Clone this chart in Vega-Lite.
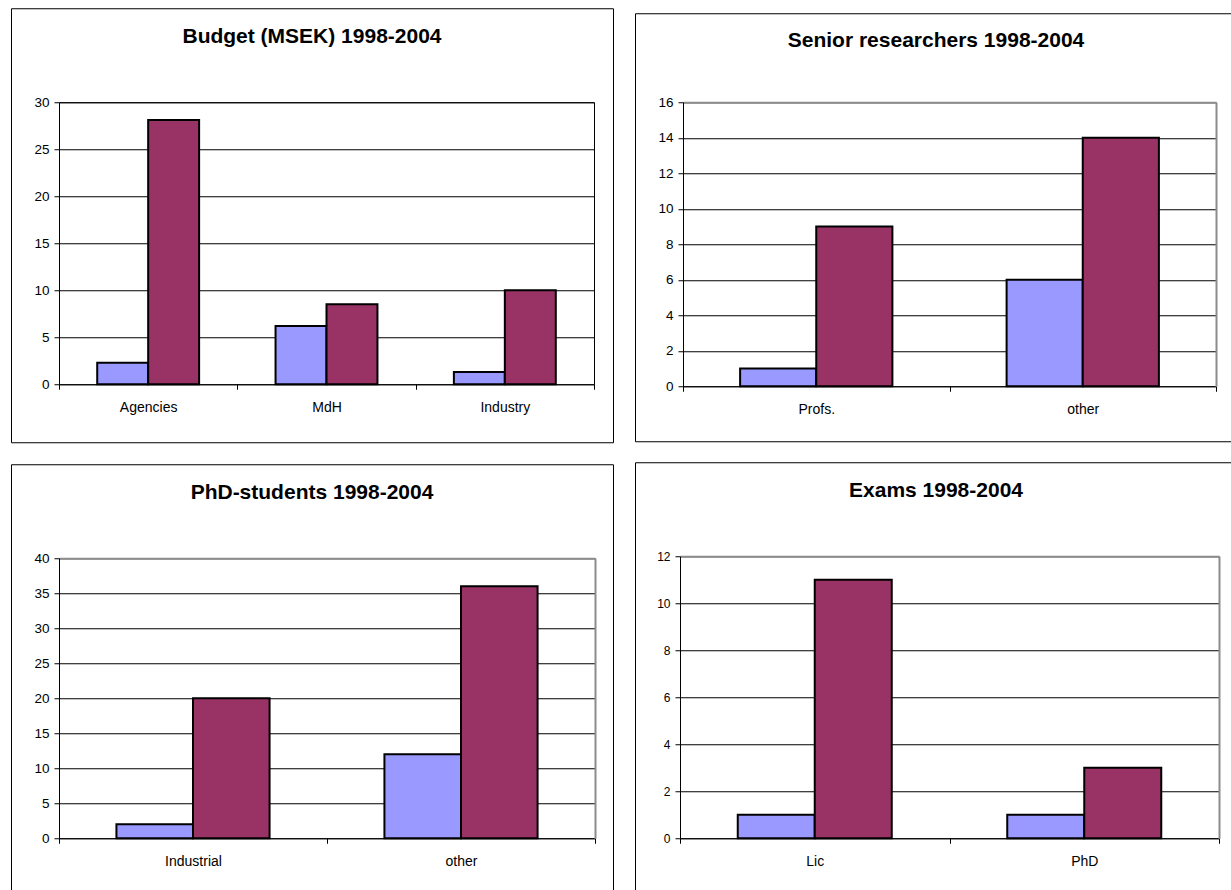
{
  "$schema": "https://vega.github.io/schema/vega-lite/v6.json",
  "background": "white",
  "padding": {"left": 10, "top": 7, "right": 0, "bottom": 0},
  "datasets": {
    "budget": [
      {"category": "Agencies", "series": "Series1", "value": 2.3},
      {"category": "Agencies", "series": "Series2", "value": 28.1},
      {"category": "MdH", "series": "Series1", "value": 6.2},
      {"category": "MdH", "series": "Series2", "value": 8.5},
      {"category": "Industry", "series": "Series1", "value": 1.3},
      {"category": "Industry", "series": "Series2", "value": 10}
    ],
    "senior": [
      {"category": "Profs.", "series": "Series1", "value": 1},
      {"category": "Profs.", "series": "Series2", "value": 9},
      {"category": "other", "series": "Series1", "value": 6},
      {"category": "other", "series": "Series2", "value": 14}
    ],
    "phd": [
      {"category": "Industrial", "series": "Series1", "value": 2},
      {"category": "Industrial", "series": "Series2", "value": 20},
      {"category": "other", "series": "Series1", "value": 12},
      {"category": "other", "series": "Series2", "value": 36}
    ],
    "exams": [
      {"category": "Lic", "series": "Series1", "value": 1},
      {"category": "Lic", "series": "Series2", "value": 11},
      {"category": "PhD", "series": "Series1", "value": 1},
      {"category": "PhD", "series": "Series2", "value": 3}
    ]
  },
  "config": {
    "view": {"stroke": "black", "strokeWidth": 1},
    "font": "Liberation Sans",
    "axis": {
      "labelFont": "Liberation Sans",
      "labelColor": "black",
      "domainColor": "black",
      "domainWidth": 1,
      "tickColor": "black",
      "tickWidth": 1,
      "gridColor": "black",
      "gridOpacity": 1,
      "gridWidth": 1,
      "title": null
    },
    "title": {"font": "Liberation Sans", "fontSize": 21, "fontWeight": "bold", "color": "black", "anchor": "middle", "frame": "group", "offset": -39}
  },
  "spacing": 20,
  "center": true,
  "resolve": {"scale": {"xOffset": "independent"}},
  "hconcat": [
    {
      "spacing": 20,
      "resolve": {"scale": {"xOffset": "independent"}},
      "vconcat": [
        {
          "width": 602, "height": 434,
          "title": {"text": "Budget (MSEK) 1998-2004", "offset": -39},
          "data": {"name": "budget"},
          "layer": [
            {
              "mark": {"type": "bar", "stroke": "black", "strokeWidth": 2},
              "encoding": {
                "x": {"field": "category", "type": "nominal", "sort": ["Agencies", "MdH", "Industry"],
                      "scale": {"range": [48, 583], "paddingInner": 0, "paddingOuter": 0},
                      "axis": {"orient": "bottom", "offset": -58, "tickBand": "extent", "tickSize": 5, "labelPadding": 11, "labelAngle": 0, "labelFontSize": 14, "grid": false}},
                "xOffset": {"field": "series", "type": "nominal", "scale": {"paddingInner": 0, "paddingOuter": 0.75}},
                "y": {"field": "value", "type": "quantitative",
                      "scale": {"domain": [0, 30], "range": [376, 94], "nice": false},
                      "axis": {"orient": "left", "offset": -48, "values": [0, 5, 10, 15, 20, 25, 30], "tickSize": 5, "labelPadding": 5, "labelFontSize": 13.5, "grid": true}},
                "color": {"field": "series", "type": "nominal", "scale": {"domain": ["Series1", "Series2"], "range": ["#9999FF", "#993366"]}, "legend": null}
              }
            },
            {
              "mark": {"type": "point", "opacity": 0},
              "encoding": {
                "x": {"field": "category", "type": "nominal", "sort": ["Agencies", "MdH", "Industry"],
                      "axis": {"orient": "top", "offset": -94, "labels": false, "ticks": false, "grid": false, "domainColor": "black"}},
                "y": {"field": "value", "type": "quantitative",
                      "axis": {"orient": "right", "offset": -19, "labels": false, "ticks": false, "grid": false, "domainColor": "black"}}
              }
            }
          ],
          "resolve": {"axis": {"x": "independent", "y": "independent"}}
        },
        {
          "width": 602, "height": 434,
          "title": {"text": "PhD-students 1998-2004"},
          "data": {"name": "phd"},
          "layer": [
            {
              "mark": {"type": "bar", "stroke": "black", "strokeWidth": 2},
              "encoding": {
                "x": {"field": "category", "type": "nominal", "sort": ["Industrial", "other"],
                      "scale": {"range": [48, 584], "paddingInner": 0, "paddingOuter": 0},
                      "axis": {"orient": "bottom", "offset": -60, "tickBand": "extent", "tickSize": 5, "labelPadding": 11, "labelAngle": 0, "labelFontSize": 14, "grid": false}},
                "xOffset": {"field": "series", "type": "nominal", "scale": {"paddingInner": 0, "paddingOuter": 0.75}},
                "y": {"field": "value", "type": "quantitative",
                      "scale": {"domain": [0, 40], "range": [374, 94], "nice": false},
                      "axis": {"orient": "left", "offset": -48, "values": [0, 5, 10, 15, 20, 25, 30, 35, 40], "tickSize": 5, "labelPadding": 5, "labelFontSize": 13.5, "grid": true}},
                "color": {"field": "series", "type": "nominal", "scale": {"domain": ["Series1", "Series2"], "range": ["#9999FF", "#993366"]}, "legend": null}
              }
            },
            {
              "mark": {"type": "point", "opacity": 0},
              "encoding": {
                "x": {"field": "category", "type": "nominal", "sort": ["Industrial", "other"],
                      "axis": {"orient": "top", "offset": -94, "labels": false, "ticks": false, "grid": false, "domainColor": "#8c8c8c", "domainWidth": 2}},
                "y": {"field": "value", "type": "quantitative",
                      "axis": {"orient": "right", "offset": -18, "labels": false, "ticks": false, "grid": false, "domainColor": "#8c8c8c", "domainWidth": 2}}
              }
            }
          ],
          "resolve": {"axis": {"x": "independent", "y": "independent"}}
        }
      ]
    },
    {
      "spacing": 19,
      "resolve": {"scale": {"xOffset": "independent"}},
      "vconcat": [
        {
          "width": 602, "height": 428,
          "title": {"text": "Senior researchers 1998-2004", "offset": -38},
          "data": {"name": "senior"},
          "layer": [
            {
              "mark": {"type": "bar", "stroke": "black", "strokeWidth": 2},
              "encoding": {
                "x": {"field": "category", "type": "nominal", "sort": ["Profs.", "other"],
                      "scale": {"range": [48, 581], "paddingInner": 0, "paddingOuter": 0},
                      "axis": {"orient": "bottom", "offset": -55, "tickBand": "extent", "tickSize": 5, "labelPadding": 11, "labelAngle": 0, "labelFontSize": 14, "grid": false}},
                "xOffset": {"field": "series", "type": "nominal", "scale": {"paddingInner": 0, "paddingOuter": 0.75}},
                "y": {"field": "value", "type": "quantitative",
                      "scale": {"domain": [0, 16], "range": [373, 89], "nice": false},
                      "axis": {"orient": "left", "offset": -48, "values": [0, 2, 4, 6, 8, 10, 12, 14, 16], "tickSize": 5, "labelPadding": 5, "labelFontSize": 13.5, "grid": true}},
                "color": {"field": "series", "type": "nominal", "scale": {"domain": ["Series1", "Series2"], "range": ["#9999FF", "#993366"]}, "legend": null}
              }
            },
            {
              "mark": {"type": "point", "opacity": 0},
              "encoding": {
                "x": {"field": "category", "type": "nominal", "sort": ["Profs.", "other"],
                      "axis": {"orient": "top", "offset": -89, "labels": false, "ticks": false, "grid": false, "domainColor": "#8c8c8c", "domainWidth": 2}},
                "y": {"field": "value", "type": "quantitative",
                      "axis": {"orient": "right", "offset": -21, "labels": false, "ticks": false, "grid": false, "domainColor": "#8c8c8c", "domainWidth": 2}}
              }
            }
          ],
          "resolve": {"axis": {"x": "independent", "y": "independent"}}
        },
        {
          "width": 602, "height": 431,
          "title": {"text": "Exams 1998-2004"},
          "data": {"name": "exams"},
          "layer": [
            {
              "mark": {"type": "bar", "stroke": "black", "strokeWidth": 2},
              "encoding": {
                "x": {"field": "category", "type": "nominal", "sort": ["Lic", "PhD"],
                      "scale": {"range": [45, 584], "paddingInner": 0, "paddingOuter": 0},
                      "axis": {"orient": "bottom", "offset": -55, "tickBand": "extent", "tickSize": 5, "labelPadding": 11, "labelAngle": 0, "labelFontSize": 14, "grid": false}},
                "xOffset": {"field": "series", "type": "nominal", "scale": {"paddingInner": 0, "paddingOuter": 0.75}},
                "y": {"field": "value", "type": "quantitative",
                      "scale": {"domain": [0, 12], "range": [376, 94], "nice": false},
                      "axis": {"orient": "left", "offset": -45, "values": [0, 2, 4, 6, 8, 10, 12], "tickSize": 5, "labelPadding": 5, "labelFontSize": 12, "grid": true}},
                "color": {"field": "series", "type": "nominal", "scale": {"domain": ["Series1", "Series2"], "range": ["#9999FF", "#993366"]}, "legend": null}
              }
            },
            {
              "mark": {"type": "point", "opacity": 0},
              "encoding": {
                "x": {"field": "category", "type": "nominal", "sort": ["Lic", "PhD"],
                      "axis": {"orient": "top", "offset": -94, "labels": false, "ticks": false, "grid": false, "domainColor": "#8c8c8c", "domainWidth": 2}},
                "y": {"field": "value", "type": "quantitative",
                      "axis": {"orient": "right", "offset": -18, "labels": false, "ticks": false, "grid": false, "domainColor": "#8c8c8c", "domainWidth": 2}}
              }
            }
          ],
          "resolve": {"axis": {"x": "independent", "y": "independent"}}
        }
      ]
    }
  ]
}
